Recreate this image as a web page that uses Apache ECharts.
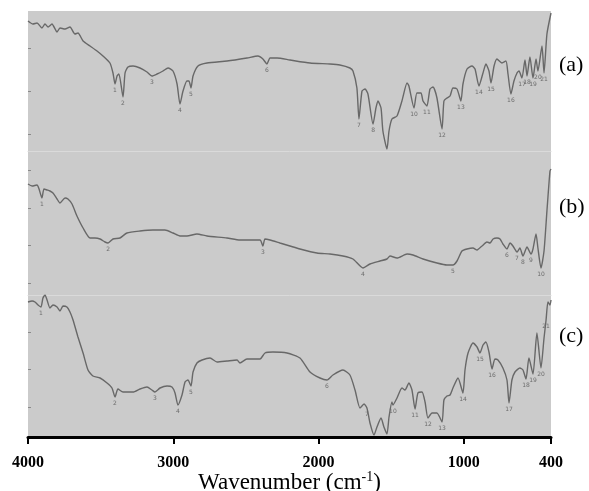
<!DOCTYPE html>
<html><head><meta charset="utf-8">
<script src="https://cdn.jsdelivr.net/npm/echarts@6/dist/echarts.min.js"></script>
<style>html,body{margin:0;padding:0;background:#fff}#c{width:589px;height:491px}</style>
</head><body><div id="c"></div>
<script>
// ---- Spectrum (a) ----
const wnA = [4000,3966,3938,3904,3883,3862,3835,3800,3780,3745,3711,3677,3656,3621,3573,3525,3484,3436,3415,3401,3387,3374,3346,3332,3312,3277,3229,3181,3147,3112,3071,3036,3002,2974,2954,2933,2906,2892,2878,2864,2830,2768,2630,2493,2417,2383,2355,2334,2286,2197,2059,1921,1853,1784,1763,1736,1722,1701,1680,1660,1625,1605,1591,1570,1557,1529,1515,1495,1460,1426,1391,1378,1343,1323,1295,1281,1254,1233,1212,1185,1150,1137,1116,1095,1075,1047,1020,1006,978,944,923,896,868,848,827,813,792,772,738,710,696,676,655,634,620,600,579,565,545,524,503,490,462,448,428,400];
const tA = [91,88.9,89.6,86.1,88.9,86.8,88.9,83.3,86.1,85.4,86.8,81.9,82.6,77,73.5,70,66.5,61.6,54.6,46.9,52.5,53.9,37.8,54.6,58.8,59.5,58.1,55.3,52.5,53.9,56,58.1,56,46.9,32.9,42,49,49,44.1,52.5,59.5,61.6,63,65.1,66.5,64.4,60.9,65.1,65.1,63.7,61.6,60.9,60.2,58.1,56,44.1,22.4,42,43.4,39.9,18.9,30.1,35,30.1,14,1.4,14,22.4,24.5,35,47.6,45.5,30.1,40.6,40.6,35,31.5,43.4,44.8,37.1,15.4,35,37.1,38.5,44.1,43.4,35,46.9,57.4,59.5,57.4,45.5,54.6,60.9,56,47.6,59.5,64.4,61.6,63,53.9,39.9,49,54.6,56,51.1,63.7,52.5,65.8,51.1,64.4,56,73.5,54.6,81.9,96.6];
const peaksA = [[3401,46.9,'1'],[3346,37.8,'2'],[3147,52.5,'3'],[2954,32.9,'4'],[2878,44.1,'5'],[2355,60.9,'6'],[1722,22.4,'7'],[1625,18.9,'8'],[1343,30.1,'10'],[1254,31.5,'11'],[1150,15.4,'12'],[1020,35,'13'],[896,45.5,'14'],[813,47.6,'15'],[676,39.9,'16'],[600,51.1,'17'],[565,52.5,'18'],[524,51.1,'19'],[490,56,'20'],[448,54.6,'21']];

// ---- Spectrum (b) ----
const wnB = [4000,3972,3938,3924,3904,3890,3869,3849,3828,3800,3780,3745,3725,3697,3663,3621,3573,3539,3504,3470,3449,3415,3367,3319,3229,3140,3057,3002,2954,2906,2837,2768,2630,2541,2403,2383,2369,2334,2266,2197,2128,2011,1921,1832,1763,1694,1646,1577,1529,1508,1460,1391,1350,1281,1185,1116,1075,1047,1013,978,937,909,875,841,820,799,772,751,731,703,682,662,634,614,593,565,538,524,503,490,469,448,428,407,400];
const tB = [77.7,76.3,77,74.2,67.9,74.2,73.5,72.8,71.4,67.2,64.4,67.9,67.2,63.7,55.3,46.9,39.9,39.9,39.2,37.1,36.4,39.2,39.9,43.4,44.8,45.5,45.5,43.4,41.3,41.3,42.7,41.3,39.9,38.5,38.5,34.3,39.2,38.5,36.4,34.3,32.2,29.4,28.7,27.3,25.2,18.9,21.7,23.8,25.2,27.3,25.9,28.7,28,25.2,22.4,21,21,23.8,30.8,32.2,32.9,31.5,34.3,37.1,36.4,39.2,39.9,39.2,35.7,32.2,36.4,34.3,30.1,32.9,27.3,33.6,28.7,32.2,42.7,32.9,18.9,30.8,58.8,86.8,88.2];
const peaksB = [[3904,67.9,'1'],[3449,36.4,'2'],[2383,34.3,'3'],[1694,18.9,'4'],[1075,21,'5'],[703,32.2,'6'],[634,30.1,'7'],[593,27.3,'8'],[538,28.7,'9'],[469,18.9,'10']];

// ---- Spectrum (c) ----
const wnC = [4000,3972,3952,3931,3911,3897,3883,3869,3849,3828,3800,3780,3759,3732,3711,3690,3656,3621,3587,3553,3504,3456,3422,3401,3381,3346,3277,3229,3181,3147,3126,3091,3043,3009,2988,2968,2940,2919,2899,2878,2864,2837,2802,2747,2699,2630,2561,2541,2493,2403,2369,2314,2217,2128,2059,1990,1942,1901,1832,1784,1749,1715,1687,1667,1646,1618,1598,1570,1550,1529,1515,1495,1488,1460,1426,1405,1378,1357,1336,1316,1288,1267,1247,1219,1185,1150,1137,1116,1095,1075,1040,1006,992,971,937,909,889,868,848,827,806,786,765,731,703,689,669,648,614,593,572,552,524,497,469,448,434,421,407,400];
const tC = [94.5,95.2,94.5,92.4,91,97.3,99.4,95.9,90.3,92.4,91,88.2,91.7,91,87.5,81.9,70,58.8,46.9,42.7,41.3,37.8,34.3,28,33.6,31.5,31.5,33.6,35,32.9,31.5,34.3,35.7,35,30.8,22.4,29.4,38.5,39.9,35.7,45.5,51.8,53.9,55.3,52.5,53.2,53.9,51.8,54.6,54.6,58.8,59.5,58.8,55.3,45.5,41.3,39.9,43.4,46.9,43.4,32.9,20.3,23.1,20.3,9.8,1.4,7,13.3,7,2.1,14,24.5,22.4,27.3,34.3,32.9,37.8,32.9,19.6,30.8,31.5,24.5,13.3,16.8,16.8,10.5,25.9,28.7,29.4,34.3,41.3,30.8,46.9,58.8,65.8,63,58.8,64.4,66.5,59.5,47.6,54.6,53.9,48.3,39.9,23.8,39.9,45.5,48.3,46.9,40.6,55.3,44.1,72.8,48.3,69.3,81.9,94.5,92.4,95.9];
const peaksC = [[3911,91,'1'],[3401,28,'2'],[3126,31.5,'3'],[2968,22.4,'4'],[2878,35.7,'5'],[1942,39.9,'6'],[1667,20.3,'7'],[1488,22.4,'10'],[1336,19.6,'11'],[1247,13.3,'12'],[1150,10.5,'13'],[1006,30.8,'14'],[889,58.8,'15'],[806,47.6,'16'],[689,23.8,'17'],[572,40.6,'18'],[524,44.1,'19'],[469,48.3,'20'],[434,81.9,'21']];

// axis ticks / labels
const xTicks = [4000,3000,2000,1000,400];
const yTicksA = [72.1,42,11.9];
const yTicksB = [87.5,60.9,35,8.4];
const yTicksC = [95.2,73.5,47.6,21];
const panelNames = ['(a)','(b)','(c)'];

const zip = (w,t) => w.map((x,i)=>[x,t[i]]);
const chart = echarts.init(document.getElementById('c'), null, {renderer:'canvas'});
const BG = '#cbcbcb', LINE = '#686868', SERIF = '"Liberation Serif","Times New Roman",serif';
const grids = [
  {left:28,right:38,top:11,height:140},
  {left:28,right:38,top:151,height:144},
  {left:28,right:38,top:295,height:142}
].map(g=>Object.assign(g,{show:true,backgroundColor:BG,borderWidth:0,containLabel:false,outerBoundsMode:'none'}));
const yMax = [98,100.8,99.4];
const yT = [yTicksA,yTicksB,yTicksC];
const xAxes = [0,1,2].map(i=>({
  gridIndex:i,type:'value',min:400,max:4000,inverse:true,
  axisLine:{show:true,onZero:false,lineStyle:i===2?{color:'#000',width:3}:{color:'#dadada',width:1}},
  axisTick:{show:i===2,customValues:xTicks,length:7,inside:false,lineStyle:{color:'#000',width:2}},
  axisLabel:{show:i===2,customValues:xTicks,formatter:v=>String(v),color:'#000',fontFamily:SERIF,fontWeight:'bold',fontSize:16,margin:18},
  splitLine:{show:false},
  name:i===2?'{a|Wavenumber (cm}{s|-1}{a|)}':'',nameLocation:'middle',nameGap:33,nameMoveOverlap:false,
  nameTextStyle:{rich:{a:{fontFamily:SERIF,fontSize:23,color:'#000'},s:{fontFamily:SERIF,fontSize:14,color:'#000',verticalAlign:'top',padding:[0,0,12,0]}}}
}));
const yAxes = [0,1,2].map(i=>({
  gridIndex:i,type:'value',min:0,max:yMax[i],
  axisLine:{show:false},axisLabel:{show:false},splitLine:{show:false},
  axisTick:{show:true,customValues:yT[i],length:3,inside:true,lineStyle:{color:'#8a8a8a',width:1}}
}));
const specs = [zip(wnA,tA),zip(wnB,tB),zip(wnC,tC)];
const peaks = [peaksA,peaksB,peaksC];
const series = [];
specs.forEach((d,i)=>{
  series.push({type:'line',xAxisIndex:i,yAxisIndex:i,data:d,showSymbol:false,smooth:0.2,
    lineStyle:{color:LINE,width:1.4},silent:true,animation:false,z:3});
  series.push({type:'scatter',xAxisIndex:i,yAxisIndex:i,data:peaks[i],symbolSize:0,silent:true,animation:false,
    label:{show:true,position:'bottom',distance:3,formatter:p=>p.value[2],fontSize:6,color:'#555',fontFamily:'DejaVu Sans'}});
});
const graphic = panelNames.map((t,i)=>({type:'text',left:559,top:[54,196,325][i],
  style:{text:t,font:'22px '+SERIF,fill:'#000'}}));
chart.setOption({animation:false,grid:grids,xAxis:xAxes,yAxis:yAxes,series,graphic});
</script></body></html>
